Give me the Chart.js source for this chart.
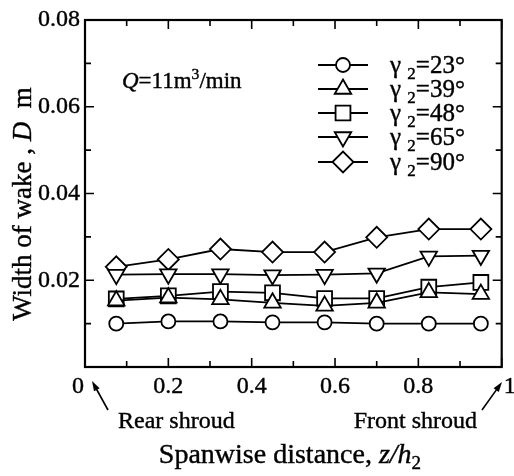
<!DOCTYPE html>
<html>
<head>
<meta charset="utf-8">
<script src="https://cdn.jsdelivr.net/npm/chart.js@4.4.1/dist/chart.umd.min.js"></script>
<style>
  html, body { margin: 0; padding: 0; background: #fff; }
  #wrap { width: 514px; height: 476px; position: relative; }
</style>
</head>
<body>
<div id="wrap"><canvas id="wakeChart"></canvas></div>
<script>
// ── Data ─────────────────────────────────────────────────────
const zPos = [0.075, 0.2, 0.325, 0.45, 0.575, 0.7, 0.825, 0.95];

const wake23 = [0.0100, 0.0105, 0.0105, 0.0103, 0.0103, 0.0100, 0.0100, 0.0100];
const wake39 = [0.0153, 0.0160, 0.0156, 0.0148, 0.0141, 0.0148, 0.0172, 0.0168];
const wake48 = [0.0157, 0.0164, 0.0174, 0.0171, 0.0158, 0.0158, 0.0184, 0.0195];
const wake65 = [0.0213, 0.0214, 0.0214, 0.0212, 0.0213, 0.0216, 0.0255, 0.0257];
const wake90 = [0.0231, 0.0248, 0.0272, 0.0265, 0.0265, 0.0299, 0.0318, 0.0318];

const angleLabels = ['23°', '39°', '48°', '65°', '90°'];
const xTicks = [0, 0.2, 0.4, 0.6, 0.8, 1];
const xTickLabels = ['0', '0.2', '0.4', '0.6', '0.8', '1'];
const yTicks = [0.02, 0.04, 0.06, 0.08];
const yTickLabels = ['0.02', '0.04', '0.06', '0.08'];

const SERIF = '"Liberation Serif", "DejaVu Serif", serif';

// marker styles per series
const markers = [
  { pointStyle: 'circle',   radius: 7,    rotation: 0 },
  { pointStyle: 'triangle', radius: 9.5,  rotation: 0 },
  { pointStyle: 'rect',     radius: 10.5, rotation: 0 },
  { pointStyle: 'triangle', radius: 9.5,  rotation: 180 },
  { pointStyle: 'rectRot',  radius: 10.5, rotation: 0 }
];
const seriesValues = [wake23, wake39, wake48, wake65, wake90];

const datasets = seriesValues.map((vals, i) => ({
  label: 'γ2=' + angleLabels[i],
  data: zPos.map((z, k) => ({ x: z, y: vals[k] })),
  borderColor: '#000',
  borderWidth: 1.8,
  pointStyle: markers[i].pointStyle,
  pointRadius: markers[i].radius,
  pointRotation: markers[i].rotation,
  pointBackgroundColor: '#fff',
  pointBorderColor: '#000',
  pointBorderWidth: 1.8,
  pointHoverRadius: markers[i].radius,
  tension: 0,
  clip: false
}));

// ── Helpers for mixed-style text ─────────────────────────────
function runFont(r, size) {
  const fs = (r.sub || r.sup) ? size * 0.68 : size;
  return (r.italic ? 'italic ' : '') + fs + 'px ' + SERIF;
}
function drawRuns(ctx, runs, x, y, size) {
  let cx = x;
  ctx.lineWidth = 0.4;
  runs.forEach(r => {
    ctx.font = runFont(r, size);
    const dy = r.sub ? size * 0.22 : (r.sup ? -size * 0.4 : 0);
    ctx.fillText(r.t, cx, y + dy);
    ctx.strokeText(r.t, cx, y + dy);
    cx += ctx.measureText(r.t).width;
  });
  return cx - x;
}
function measureRuns(ctx, runs, size) {
  let w = 0;
  runs.forEach(r => {
    ctx.font = runFont(r, size);
    w += ctx.measureText(r.t).width;
  });
  return w;
}
function plainText(ctx, t, x, y) {
  ctx.lineWidth = 0.4;
  ctx.fillText(t, x, y);
  ctx.strokeText(t, x, y);
}
function arrow(ctx, x1, y1, x2, y2) {
  const a = Math.atan2(y2 - y1, x2 - x1);
  const L = 10, W = 3.2;
  ctx.beginPath();
  ctx.moveTo(x1, y1);
  ctx.lineTo(x2 - Math.cos(a) * L * 0.6, y2 - Math.sin(a) * L * 0.6);
  ctx.lineWidth = 1.6;
  ctx.stroke();
  ctx.beginPath();
  ctx.moveTo(x2, y2);
  ctx.lineTo(x2 - Math.cos(a) * L + Math.sin(a) * W, y2 - Math.sin(a) * L - Math.cos(a) * W);
  ctx.lineTo(x2 - Math.cos(a) * L - Math.sin(a) * W, y2 - Math.sin(a) * L + Math.cos(a) * W);
  ctx.closePath();
  ctx.fill();
}

// ── Frame, inward ticks, labels, legend, annotations ─────────
const decorPlugin = {
  id: 'decor',
  afterDraw(chart) {
    const { ctx, chartArea: a, scales } = chart;
    const xs = scales.x, ys = scales.y;
    ctx.save();
    ctx.strokeStyle = '#000';
    ctx.fillStyle = '#000';

    // frame
    ctx.lineWidth = 2.2;
    ctx.strokeRect(a.left, a.top, a.right - a.left, a.bottom - a.top);

    // x ticks (bottom and top)
    ctx.lineWidth = 1.6;
    for (let v = 0; v <= 1.0001; v += 0.1) {
      const px = xs.getPixelForValue(v);
      const major = Math.abs(v * 5 - Math.round(v * 5)) < 1e-6;
      const len = major ? 9 : 6;
      ctx.beginPath();
      ctx.moveTo(px, a.bottom); ctx.lineTo(px, a.bottom - len);
      ctx.moveTo(px, a.top);    ctx.lineTo(px, a.top + len);
      ctx.stroke();
    }
    // y ticks (left and right)
    for (let v = 0; v <= 0.08001; v += 0.01) {
      const py = ys.getPixelForValue(v);
      const major = Math.abs(v * 50 - Math.round(v * 50)) < 1e-6;
      const len = major ? 9 : 6;
      ctx.beginPath();
      ctx.moveTo(a.left, py);  ctx.lineTo(a.left + len, py);
      ctx.moveTo(a.right, py); ctx.lineTo(a.right - len, py);
      ctx.stroke();
    }

    // tick labels
    ctx.font = '24px ' + SERIF;
    ctx.textBaseline = 'middle';
    ctx.textAlign = 'center';
    xTicks.forEach((v, i) => {
      let px = xs.getPixelForValue(v);
      if (v === 0) px -= 7;
      if (v === 1) px += 8;
      plainText(ctx, xTickLabels[i], px, a.bottom + 20);
    });
    ctx.textAlign = 'right';
    yTicks.forEach((v, i) => {
      plainText(ctx, yTickLabels[i], a.left - 5, ys.getPixelForValue(v));
    });

    // x title
    ctx.textAlign = 'left';
    ctx.textBaseline = 'alphabetic';
    const xRuns = [{ t: 'Spanwise distance, ' }, { t: 'z/h', italic: true }, { t: '2', sub: true }];
    const xw = measureRuns(ctx, xRuns, 28);
    drawRuns(ctx, xRuns, 290 - xw / 2, 463, 28);

    // y title (rotated)
    const yRuns = [{ t: 'Width of wake , ' }, { t: 'D', italic: true }, { t: '  m' }];
    const yw = measureRuns(ctx, yRuns, 27);
    ctx.save();
    ctx.translate(31, 204);
    ctx.rotate(-Math.PI / 2);
    drawRuns(ctx, yRuns, -yw / 2, 0, 27);
    ctx.restore();

    // flow rate note
    drawRuns(ctx, [{ t: 'Q', italic: true }, { t: '=11m' }, { t: '3', sup: true }, { t: '/min' }], 122, 88, 23);

    // annotations
    ctx.font = '24px ' + SERIF;
    ctx.textAlign = 'left';
    plainText(ctx, 'Rear shroud', 118, 428);
    ctx.textAlign = 'right';
    plainText(ctx, 'Front shroud', 477, 428);
    arrow(ctx, 108, 410, 92, 381);
    arrow(ctx, 482, 410, 502, 382);

    // legend
    const rowY = [65, 89, 113, 137, 162];
    chart.data.datasets.forEach((ds, i) => {
      const y = rowY[i];
      ctx.lineWidth = 1.8;
      ctx.beginPath();
      ctx.moveTo(318, y); ctx.lineTo(368, y);
      ctx.stroke();
      ctx.fillStyle = '#fff';
      Chart.helpers.drawPoint(ctx, {
        pointStyle: markers[i].pointStyle,
        radius: markers[i].radius,
        rotation: markers[i].rotation,
        borderWidth: 1.8
      }, 343, y);
      ctx.fillStyle = '#000';
      ctx.textAlign = 'left';
      ctx.textBaseline = 'alphabetic';
      drawRuns(ctx, [{ t: 'γ ' }, { t: '2', sub: true }, { t: '=' + angleLabels[i] }], 390, y + 8, 25);
    });

    ctx.restore();
  }
};

new Chart(document.getElementById('wakeChart'), {
  type: 'line',
  data: { datasets },
  options: {
    responsive: true,
    maintainAspectRatio: false,
    animation: false,
    layout: { padding: { left: 85, top: 20, right: 6, bottom: 109 } },
    plugins: { legend: { display: false }, tooltip: { enabled: false } },
    scales: {
      x: { type: 'linear', min: 0, max: 1, display: false },
      y: { type: 'linear', min: 0, max: 0.08, display: false }
    }
  },
  plugins: [decorPlugin]
});
</script>
</body>
</html>
